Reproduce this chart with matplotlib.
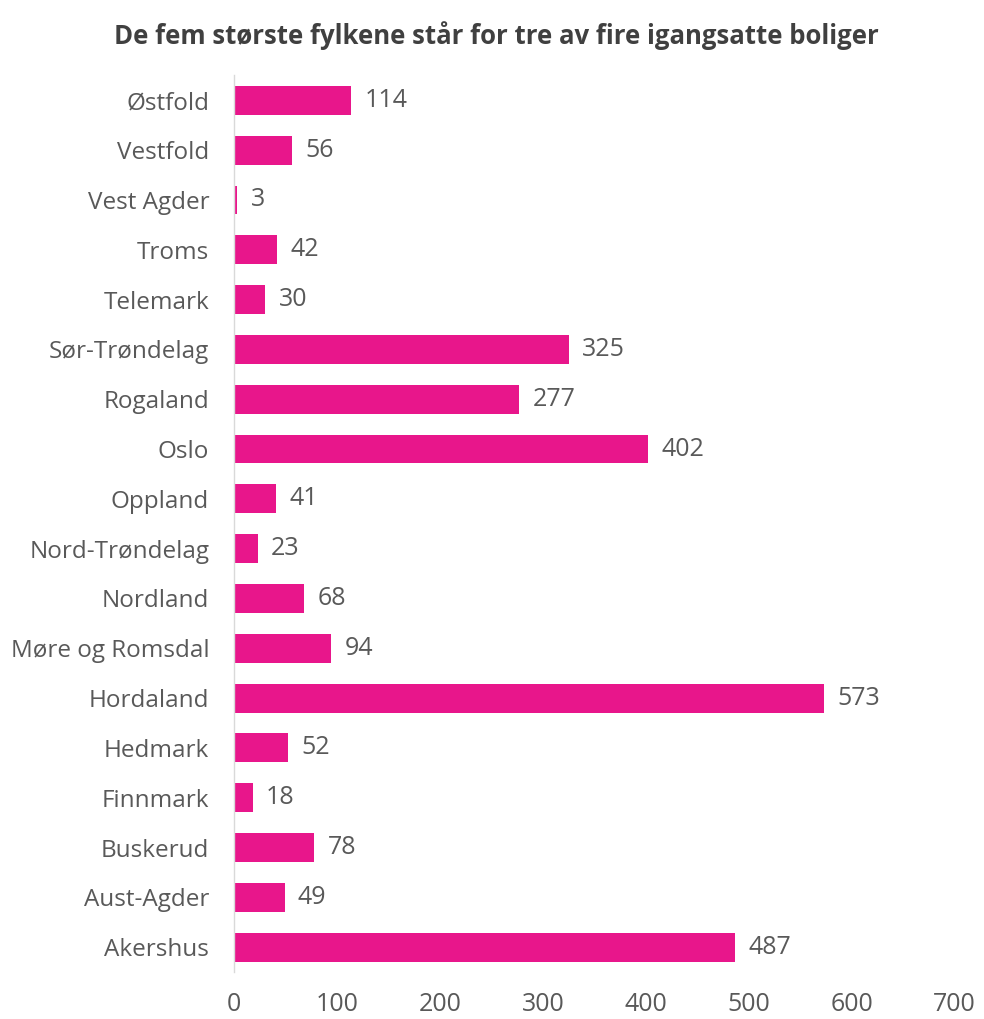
import matplotlib
matplotlib.use("Agg")
import matplotlib.pyplot as plt

# Data, listed bottom to top as drawn
fylker = ["Akershus", "Aust-Agder", "Buskerud", "Finnmark", "Hedmark", "Hordaland",
          "Møre og Romsdal", "Nordland", "Nord-Trøndelag", "Oppland", "Oslo",
          "Rogaland", "Sør-Trøndelag", "Telemark", "Troms", "Vest Agder",
          "Vestfold", "Østfold"]
boliger = [487, 49, 78, 18, 52, 573, 94, 68, 23, 41, 402, 277, 325, 30, 42, 3, 56, 114]

tittel = "De fem største fylkene står for tre av fire igangsatte boliger"
x_ticks = [0, 100, 200, 300, 400, 500, 600, 700]

plt.rcParams['font.family'] = ['Open Sans', 'DejaVu Sans']
tekst_farge = "#595959"
bar_farge = "#E8168B"
fs = 17.5
fs_tall = 18

fig = plt.figure(figsize=(9.84, 10.19), dpi=100)
ax = fig.add_axes([0.238, 0.046, 0.732, 0.880])

pos = list(range(len(fylker)))
ax.barh(pos, boliger, height=0.58, color=bar_farge)

for y, v in zip(pos, boliger):
    ax.text(v + 13, y, str(v), va="center", ha="left", fontsize=fs_tall, color=tekst_farge)

ax.set_xlim(0, 700)
ax.set_ylim(-0.5, len(fylker) - 0.5)
ax.set_yticks(pos)
ax.set_yticklabels(fylker, fontsize=fs, color=tekst_farge)
ax.set_xticks(x_ticks)
ax.set_xticklabels([str(t) for t in x_ticks], fontsize=fs_tall, color=tekst_farge)
ax.tick_params(axis="both", length=0)
ax.tick_params(axis="x", pad=14)
ax.tick_params(axis="y", pad=18)

for s in ["top", "right", "bottom"]:
    ax.spines[s].set_visible(False)
ax.spines["left"].set_color("#D9D9D9")
ax.spines["left"].set_linewidth(1)

fig.text(0.504, 0.965, tittel, ha="center", va="center", fontsize=18.5,
         fontweight="bold", color="#404040")

fig.savefig("out.png", dpi=100)
